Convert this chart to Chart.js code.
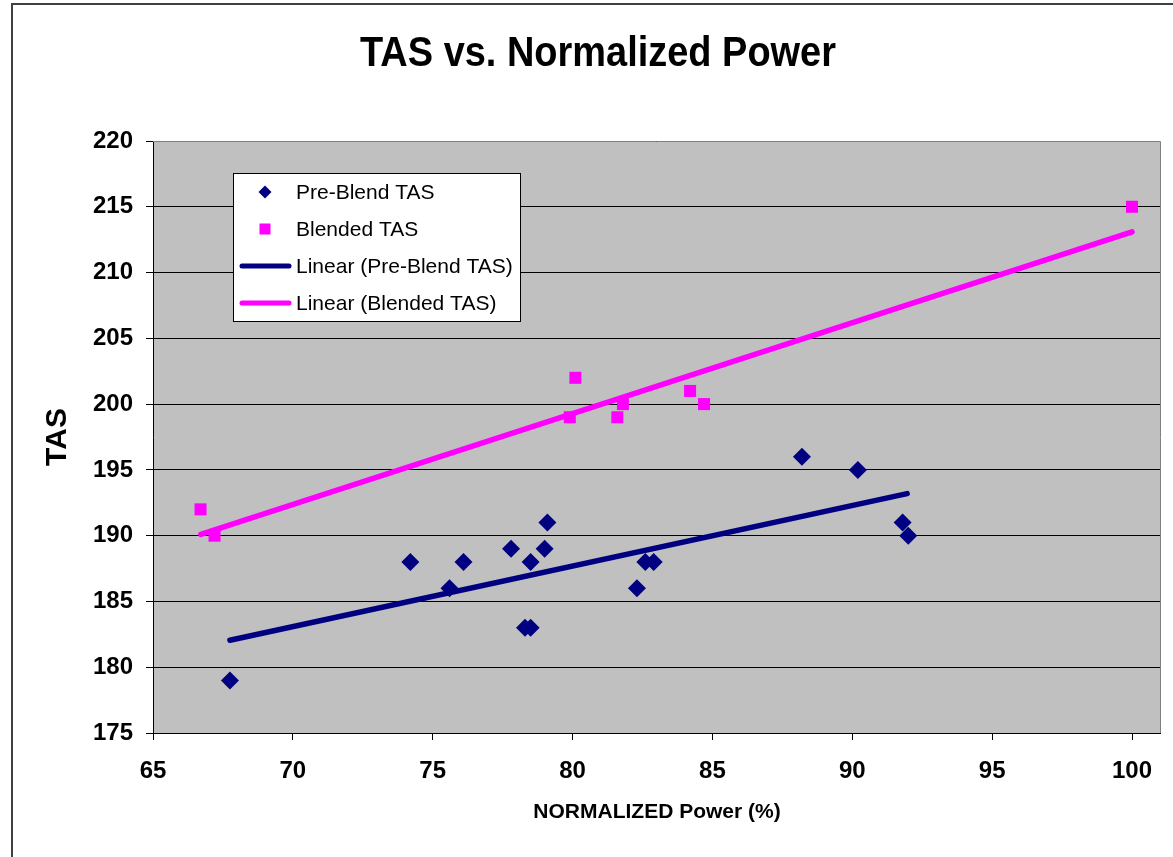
<!DOCTYPE html>
<html><head><meta charset="utf-8">
<script src="https://cdn.jsdelivr.net/npm/chart.js@4/dist/chart.umd.min.js"></script>
<style>html,body{margin:0;padding:0;background:#fff;}#wrap{width:1173px;height:857px;position:relative;}</style>
</head><body><div id="wrap"><canvas id="c" width="1173" height="857"></canvas></div>
<script>
const chartTitle = 'TAS vs. Normalized Power';
const xTitle = 'NORMALIZED Power (%)';
const yTitle = 'TAS';
const seriesNames = ['Pre-Blend TAS', 'Blended TAS', 'Linear (Pre-Blend TAS)', 'Linear (Blended TAS)'];

const preBlendPower = [67.75, 74.2, 75.6, 76.1, 77.8, 78.3, 78.5, 78.5, 79.0, 79.1, 82.3, 82.6, 82.9, 88.2, 90.2, 91.8, 92.0];
const preBlendTAS   = [179,   188,  186,  188,  189,  183,  183,  188,  189,  191,  186,  188,  188,  196,  195,  191,  190];

const blendedPower = [66.7, 67.2, 79.9, 80.1, 81.6, 81.8, 84.2, 84.7, 100];
const blendedTAS   = [192,  190,  199,  202,  199,  200,  201,  200,  215];

const preTrendPower = [67.75, 91.96];
const preTrendTAS   = [182.05, 193.2];
const blendTrendPower = [66.71, 100];
const blendTrendTAS   = [190.1, 213.1];

const NAVY = '#000080', MAGENTA = '#FF00FF';
const FONT = '"Liberation Sans", Arial, sans-serif';

const pts = (xs, ys) => xs.map((x, i) => ({x: x, y: ys[i]}));

const decor = {
  id: 'decor',
  beforeDraw(chart) {
    const {ctx, chartArea: a} = chart;
    ctx.save();
    ctx.fillStyle = '#C0C0C0';
    ctx.fillRect(a.left, a.top, a.right - a.left, a.bottom - a.top);
    ctx.restore();
  },
  afterDatasetsDraw(chart) {
    const {ctx, chartArea: a} = chart;
    ctx.save();
    ctx.strokeStyle = '#808080';
    ctx.lineWidth = 1;
    ctx.beginPath();
    ctx.moveTo(a.left, a.top + 0.5); ctx.lineTo(a.right + 0.5, a.top + 0.5);
    ctx.lineTo(a.right + 0.5, a.bottom);
    ctx.stroke();

    ctx.strokeStyle = '#404040';
    ctx.lineWidth = 2;
    ctx.beginPath();
    ctx.moveTo(12, 857); ctx.lineTo(12, 4); ctx.lineTo(1173, 4);
    ctx.stroke();

    ctx.fillStyle = '#000';
    ctx.font = 'bold 42px ' + FONT;
    ctx.textAlign = 'center';
    ctx.textBaseline = 'middle';
    const w = ctx.measureText(chartTitle).width;
    const sx = 476 / w;
    ctx.save();
    ctx.translate(598, 54);
    ctx.scale(sx, 1);
    ctx.fillText(chartTitle, 0, 0);
    ctx.restore();

    ctx.font = 'bold 21px ' + FONT;
    ctx.fillText(xTitle, 657, 812);
    ctx.save();
    ctx.translate(58, 437);
    ctx.rotate(-Math.PI / 2);
    ctx.font = 'bold 30px ' + FONT;
    ctx.fillText(yTitle, 0, 0);
    ctx.restore();

    ctx.fillStyle = '#fff';
    ctx.fillRect(233.5, 173.5, 287, 148);
    ctx.strokeStyle = '#000';
    ctx.lineWidth = 1;
    ctx.strokeRect(233.5, 173.5, 287, 148);
    const rows = [192, 229, 266, 303];
    chart.data.datasets.forEach((d, i) => {
      const y = rows[i];
      if (d.showLine) {
        ctx.strokeStyle = d.borderColor;
        ctx.lineWidth = 5;
        ctx.lineCap = 'round';
        ctx.beginPath();
        ctx.moveTo(242, y); ctx.lineTo(289, y);
        ctx.stroke();
      } else {
        ctx.fillStyle = d.backgroundColor;
        if (d.pointStyle === 'rectRot') {
          ctx.beginPath();
          ctx.moveTo(265, y - 6.5); ctx.lineTo(271.5, y); ctx.lineTo(265, y + 6.5); ctx.lineTo(258.5, y);
          ctx.closePath(); ctx.fill();
        } else {
          ctx.fillRect(259.5, y - 5.5, 11, 11);
        }
      }
      ctx.fillStyle = '#000';
      ctx.font = '21px ' + FONT;
      ctx.textAlign = 'left';
      ctx.textBaseline = 'middle';
      ctx.fillText(d.label, 296, y + 1);
    });
    ctx.restore();
  }
};

new Chart(document.getElementById('c'), {
  type: 'scatter',
  data: {
    datasets: [
      {label: seriesNames[0], data: pts(preBlendPower, preBlendTAS), pointStyle: 'rectRot', pointRadius: 9,
       backgroundColor: NAVY, borderColor: NAVY, borderWidth: 0, showLine: false},
      {label: seriesNames[1], data: pts(blendedPower, blendedTAS), pointStyle: 'rect', pointRadius: 8.5,
       backgroundColor: MAGENTA, borderColor: MAGENTA, borderWidth: 0, showLine: false},
      {label: seriesNames[2], data: pts(preTrendPower, preTrendTAS), showLine: true, pointRadius: 0,
       borderColor: NAVY, backgroundColor: NAVY, borderWidth: 5.5, borderCapStyle: 'round'},
      {label: seriesNames[3], data: pts(blendTrendPower, blendTrendTAS), showLine: true, pointRadius: 0,
       borderColor: MAGENTA, backgroundColor: MAGENTA, borderWidth: 5.5, borderCapStyle: 'round'}
    ]
  },
  options: {
    responsive: false,
    animation: false,
    devicePixelRatio: 1,
    layout: {padding: {top: 141, right: 13, left: 0, bottom: 0}},
    plugins: {legend: {display: false}, title: {display: false}, tooltip: {enabled: false}},
    scales: {
      x: {
        type: 'linear', position: 'bottom', min: 65, max: 101,
        ticks: {stepSize: 5, includeBounds: false, color: '#000', padding: 17,
                font: {family: FONT, size: 24, weight: 'bold'}},
        grid: {drawOnChartArea: false, drawTicks: true, tickLength: 7, color: '#000'},
        border: {color: '#000', width: 1},
        afterFit(s) { s.height = 124; }
      },
      y: {
        type: 'linear', position: 'left', min: 175, max: 220,
        ticks: {stepSize: 5, color: '#000', padding: 13,
                font: {family: FONT, size: 24, weight: 'bold'}},
        grid: {color: '#000', tickLength: 7},
        border: {color: '#000', width: 1},
        afterFit(s) { s.width = 153; }
      }
    }
  },
  plugins: [decor]
});
</script></body></html>
